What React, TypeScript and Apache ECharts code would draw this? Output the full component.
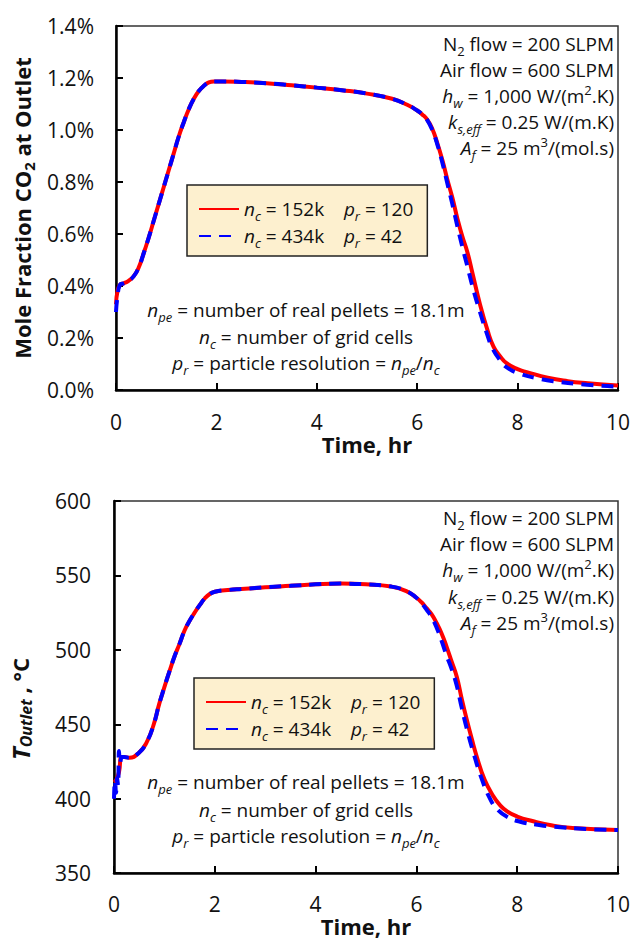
import React, { useEffect, useRef } from "react";
import * as echarts from "echarts";

// ---------- data ----------
// Top chart: mole fraction CO2 at outlet (%)
const co2TimeRed = [0, 0.03, 0.08, 0.15, 0.25, 0.35, 0.45, 0.55, 0.65, 0.75, 0.85, 0.95, 1.05, 1.15, 1.25, 1.35, 1.45, 1.55, 1.65, 1.75, 1.85, 1.95, 2.1, 2.5, 3.0, 3.5, 4.0, 4.5, 5.0, 5.5, 5.8, 6.0, 6.1, 6.2, 6.3, 6.4, 6.5, 6.6, 6.7, 6.8, 6.9, 7.0, 7.1, 7.25, 7.4, 7.52, 7.65, 7.78, 8.0, 8.2, 8.6, 9.0, 9.4, 10];
const co2Red = [0.33, 0.38, 0.405, 0.41, 0.42, 0.437, 0.47, 0.525, 0.585, 0.65, 0.715, 0.78, 0.845, 0.91, 0.975, 1.03, 1.08, 1.12, 1.15, 1.17, 1.183, 1.187, 1.187, 1.185, 1.18, 1.172, 1.163, 1.153, 1.14, 1.12, 1.097, 1.075, 1.06, 1.04, 1.005, 0.95, 0.885, 0.81, 0.74, 0.66, 0.59, 0.53, 0.45, 0.33, 0.23, 0.167, 0.13, 0.103, 0.08, 0.068, 0.047, 0.034, 0.026, 0.017];
const co2TimeBlue = [0, 0.03, 0.08, 0.15, 0.25, 0.35, 0.45, 0.55, 0.65, 0.75, 0.85, 0.95, 1.05, 1.15, 1.25, 1.35, 1.45, 1.55, 1.65, 1.75, 1.85, 1.95, 2.1, 2.5, 3.0, 3.5, 4.0, 4.5, 5.0, 5.5, 5.8, 6.0, 6.1, 6.2, 6.3, 6.4, 6.5, 6.6, 6.7, 6.8, 6.9, 7.0, 7.12, 7.25, 7.4, 7.5, 7.65, 7.8, 8.05, 8.4, 8.71, 9.38, 10];
const co2Blue = [0.3, 0.36, 0.405, 0.41, 0.42, 0.437, 0.47, 0.525, 0.585, 0.65, 0.715, 0.78, 0.845, 0.91, 0.975, 1.03, 1.08, 1.12, 1.15, 1.17, 1.183, 1.187, 1.187, 1.185, 1.18, 1.172, 1.163, 1.153, 1.14, 1.12, 1.097, 1.075, 1.06, 1.038, 1.0, 0.945, 0.875, 0.795, 0.715, 0.63, 0.55, 0.475, 0.385, 0.3, 0.21, 0.16, 0.115, 0.085, 0.062, 0.045, 0.034, 0.02, 0.013];

// Bottom chart: outlet temperature (°C)
const tTimeRed = [0, 0.05, 0.1, 0.15, 0.2, 0.3, 0.5, 0.65, 0.78, 0.9, 1.0, 1.1, 1.2, 1.3, 1.4, 1.5, 1.6, 1.7, 1.8, 1.9, 2.0, 2.2, 2.6, 3.0, 3.5, 4.0, 4.5, 5.0, 5.5, 5.8, 6.0, 6.1, 6.2, 6.3, 6.4, 6.5, 6.6, 6.7, 6.8, 6.9, 7.0, 7.1, 7.2, 7.35, 7.52, 7.65, 7.8, 8.0, 8.3, 8.7, 9.1, 10];
const tRed = [411, 413, 418, 428, 428, 427.5, 431, 438, 449, 464, 475, 485.5, 495.5, 504, 513, 519.5, 525, 530, 534.5, 537.5, 539, 540, 541, 542, 543, 544, 544.5, 544, 542.5, 539.5, 535, 532, 528, 524, 518, 511, 502, 492, 482, 467, 453, 440, 428, 413, 402, 396, 391.5, 388, 385, 382, 380.3, 379];
const tTimeBlue = [0, 0.02, 0.04, 0.06, 0.08, 0.1, 0.12, 0.16, 0.2, 0.3, 0.5, 0.65, 0.78, 0.9, 1.0, 1.1, 1.2, 1.3, 1.4, 1.5, 1.6, 1.7, 1.8, 1.9, 2.0, 2.2, 2.6, 3.0, 3.5, 4.0, 4.5, 5.0, 5.5, 5.8, 6.0, 6.1, 6.2, 6.3, 6.4, 6.5, 6.6, 6.7, 6.8, 6.9, 7.0, 7.13, 7.3, 7.46, 7.6, 7.79, 8.06, 8.4, 8.72, 9.38, 10];
const tBlue = [400, 412, 404, 414, 409, 432, 424, 428, 428, 427.5, 431, 438, 449, 464, 475, 485.5, 495.5, 504, 513, 519.5, 525, 530, 534.5, 537.5, 539, 540, 541, 542, 543, 544, 544.5, 544, 542.5, 539.5, 535, 531.5, 527, 522, 515, 506, 496, 487, 476, 461, 447, 431, 413, 400, 393, 388, 384.5, 382.5, 381.2, 379.6, 379];

const legendLabels = {
  a: "{i|n}{s|c}{t| = 152k\u00a0\u00a0\u00a0\u00a0}{i|p}{s|r}{t| = 120}",
  b: "{i|n}{s|c}{t| = 434k\u00a0\u00a0\u00a0\u00a0}{i|p}{s|r}{t| = 42}",
};

const paramLines = [
  "{t|N}{sn|2}{t| flow = 200 SLPM}",
  "{t|Air flow = 600 SLPM}",
  "{i|h}{s|w}{t| = 1,000 W/(m}{sp|2}{t|.K)}",
  "{i|k}{s|s,eff}{t| = 0.25 W/(m.K)}",
  "{i|A}{s|f}{t| = 25 m}{sp|3}{t|/(mol.s)}",
];
const defLines = [
  "{i|n}{s|pe}{t| = number of real pellets = 18.1m}",
  "{i|n}{s|c}{t| = number of grid cells}",
  "{i|p}{s|r}{t| = particle resolution = }{i|n}{s|pe}{t|/}{i|n}{s|c}",
];

// ---------- styles ----------
const FONT = '"Open Sans", "Noto Sans", sans-serif';
const TXT = "#111";

const zrRich = {
  t: { fontFamily: FONT, fontSize: 19, lineHeight: 26, fill: TXT },
  i: { fontFamily: FONT, fontSize: 19, lineHeight: 26, fontStyle: "italic", fill: TXT },
  s: { fontFamily: FONT, fontSize: 13, lineHeight: 12, fontStyle: "italic", verticalAlign: "bottom", fill: TXT },
  sn: { fontFamily: FONT, fontSize: 13, lineHeight: 12, verticalAlign: "bottom", fill: TXT },
  sp: { fontFamily: FONT, fontSize: 13, lineHeight: 17, verticalAlign: "top", fill: TXT },
};
const ecRich = {
  t: { fontFamily: FONT, fontSize: 19, lineHeight: 26, color: TXT },
  i: { fontFamily: FONT, fontSize: 19, lineHeight: 26, fontStyle: "italic", color: TXT },
  s: { fontFamily: FONT, fontSize: 13, lineHeight: 12, fontStyle: "italic", verticalAlign: "bottom", color: TXT },
};

function textLines(lines: string[], x: number, ys: number[], align: string) {
  return lines.map((txt, k) => ({
    type: "text",
    x,
    y: ys[k],
    silent: true,
    style: { text: txt, rich: zrRich, align, verticalAlign: "middle", fill: TXT },
  }));
}

function pairs(xs: number[], ys: number[]) {
  return xs.map((x, k) => [x, ys[k]]);
}

export default function App() {
  const ref = useRef<HTMLDivElement>(null);
  useEffect(() => {
    if (!ref.current) return;
    const chart = echarts.init(ref.current, null, { renderer: "svg" });

    const axisLabel = { fontFamily: FONT, fontSize: 21, color: TXT };
    const axisLine = { show: true, lineStyle: { color: "#000", width: 2.5 } };
    const axisTick = { show: true, inside: true, length: 7, lineStyle: { color: "#000", width: 2 } };
    const xNameStyle = { fontFamily: FONT, fontSize: 22, fontWeight: "bold", color: TXT };

    const mkX = (gi: number, gap: number, margin: number) => ({
      type: "value",
      gridIndex: gi,
      min: 0,
      max: 10,
      interval: 2,
      axisLine,
      axisTick,
      splitLine: { show: false },
      axisLabel: { ...axisLabel, margin },
      name: "Time, hr",
      nameLocation: "middle",
      nameGap: gap,
      nameTextStyle: xNameStyle,
    });

    const line = (name: string, gi: number, data: number[][], color: string, dashed: boolean) => ({
      name,
      type: "line",
      xAxisIndex: gi,
      yAxisIndex: gi,
      data,
      showSymbol: false,
      symbol: "none",
      smooth: 0.5,
      color,
      itemStyle: { color, opacity: 0 },
      lineStyle: { color, width: 4, type: dashed ? [12, 8] : "solid", cap: "butt", opacity: 1 },
      z: dashed ? 3 : 2,
    });

    const legendCommon = {
      orient: "vertical",
      itemWidth: 40,
      itemHeight: 14,
      itemGap: 1,
      backgroundColor: "#fdf0cf",
      borderColor: "#222",
      borderWidth: 1.5,
      borderRadius: 0,
      padding: [11, 14, 7, 11],
      selectedMode: false,
      itemStyle: { opacity: 0 },
      textStyle: { fontFamily: FONT, fontSize: 19, color: TXT, lineHeight: 26, rich: ecRich },
      formatter: (n: string) => (n.endsWith("152") ? legendLabels.a : legendLabels.b),
    };

    const option: any = {
      animation: false,
      backgroundColor: "#fff",
      grid: [
        { left: 116, top: 26, width: 502, height: 364, show: true, borderColor: "#333", borderWidth: 1.5, backgroundColor: "transparent" },
        { left: 114, top: 501, width: 504, height: 374, show: true, borderColor: "#333", borderWidth: 1.5, backgroundColor: "transparent" },
      ],
      xAxis: [mkX(0, 42, 21), mkX(1, 38, 20)],
      yAxis: [
        {
          type: "value",
          gridIndex: 0,
          min: 0,
          max: 1.4,
          interval: 0.2,
          axisLine,
          axisTick,
          splitLine: { show: false },
          axisLabel: { ...axisLabel, margin: 22, formatter: (v: number) => v.toFixed(1) + "%" },
          name: "{b|Mole Fraction CO}{bs|2}{b| at Outlet}",
          nameLocation: "middle",
          nameGap: 78,
          nameRotate: 90,
          nameTextStyle: {
            fontFamily: FONT,
            fontSize: 22,
            fontWeight: "bold",
            color: TXT,
            rich: {
              b: { fontFamily: FONT, fontSize: 22, fontWeight: "bold", lineHeight: 28, color: TXT },
              bs: { fontFamily: FONT, fontSize: 15, fontWeight: "bold", lineHeight: 12, verticalAlign: "bottom", color: TXT },
            },
          },
        },
        {
          type: "value",
          gridIndex: 1,
          min: 350,
          max: 600,
          interval: 50,
          axisLine,
          axisTick,
          splitLine: { show: false },
          axisLabel: { ...axisLabel, margin: 23 },
          name: "{bi|T}{bis|Outlet}{b| , °C}",
          nameLocation: "middle",
          nameGap: 80,
          nameRotate: 90,
          nameTextStyle: {
            fontFamily: FONT,
            fontSize: 22,
            fontWeight: "bold",
            color: TXT,
            padding: [0, 44, 0, 0],
            rich: {
              b: { fontFamily: FONT, fontSize: 22, fontWeight: "bold", lineHeight: 28, color: TXT },
              bi: { fontFamily: FONT, fontSize: 24, fontWeight: "bold", fontStyle: "italic", lineHeight: 28, color: TXT },
              bis: { fontFamily: FONT, fontSize: 16, fontWeight: "bold", fontStyle: "italic", lineHeight: 14, verticalAlign: "bottom", color: TXT },
            },
          },
        },
      ],
      legend: [
        { ...legendCommon, left: 187, top: 185, data: ["co2_152", "co2_434"] },
        { ...legendCommon, left: 194, top: 678, data: ["t_152", "t_434"] },
      ],
      series: [
        line("co2_152", 0, pairs(co2TimeRed, co2Red), "#ff0000", false),
        line("co2_434", 0, pairs(co2TimeBlue, co2Blue), "#0000ff", true),
        line("t_152", 1, pairs(tTimeRed, tRed), "#ff0000", false),
        line("t_434", 1, pairs(tTimeBlue, tBlue), "#0000ff", true),
      ],
      graphic: [
        ...textLines(paramLines, 614, [44, 70, 96, 122, 148], "right"),
        ...textLines(defLines, 306, [310, 337, 363], "center"),
        ...textLines(paramLines, 614, [518, 544, 570, 597, 623], "right"),
        ...textLines(defLines, 306, [782, 810, 836], "center"),
      ],
    };
    chart.setOption(option);
    return () => chart.dispose();
  }, []);
  return (
    <div
      ref={ref}
      style={{ position: "absolute", left: 0, top: 0, width: 634, height: 938 }}
    />
  );
}
